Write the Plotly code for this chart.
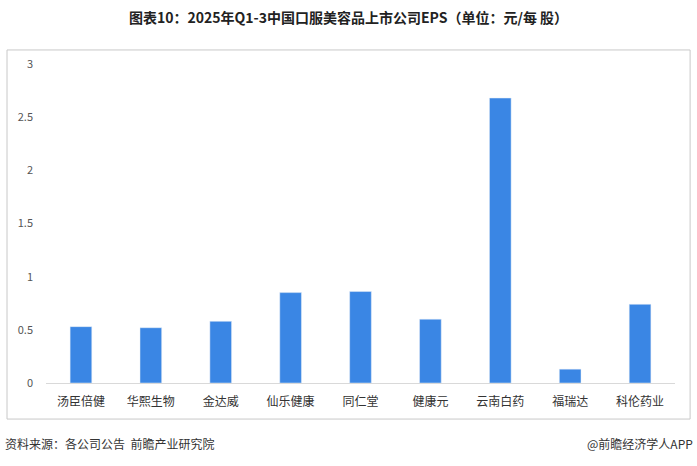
import plotly.graph_objects as go

categories = ["汤臣倍健", "华熙生物", "金达威", "仙乐健康", "同仁堂", "健康元", "云南白药", "福瑞达", "科伦药业"]
eps = [0.53, 0.52, 0.58, 0.85, 0.86, 0.60, 2.68, 0.13, 0.74]

F = "Noto Sans CJK SC"
fig = go.Figure(go.Bar(x=categories, y=eps, marker_color="#3a86e4", width=0.31))
fig.update_layout(
    width=697, height=466, plot_bgcolor="white", paper_bgcolor="white",
    margin=dict(l=46, r=22, t=64, b=83), showlegend=False,
    font=dict(family=F, size=12, color="#333"),
    title=dict(text="<b>图表10：2025年Q1-3中国口服美容品上市公司EPS（单位：元/每 股）</b>",
               x=0.5, xanchor="center", y=0.962, yanchor="middle", font=dict(size=14, color="#222")),
    xaxis=dict(showline=True, linecolor="#d9d9d9", linewidth=1, ticks="",
               tickfont=dict(size=12, color="#333"), ticklabelstandoff=8),
    yaxis=dict(range=[0, 3], dtick=0.5, showgrid=False, zeroline=False, showline=False,
               tickfont=dict(size=11, color="#555"), ticklabelstandoff=12),
    shapes=[dict(type="rect", xref="paper", yref="paper", x0=-0.062, x1=1.024, y0=-0.113, y1=1.044,
                 line=dict(color="#c8c8c8", width=1), layer="above")],
    annotations=[
        dict(text="资料来源：各公司公告  前瞻产业研究院", xref="paper", yref="paper", x=-0.068, y=-0.19,
             xanchor="left", yanchor="middle", showarrow=False, font=dict(size=12, color="#333")),
        dict(text="@前瞻经济学人APP", xref="paper", yref="paper", x=1.032, y=-0.19,
             xanchor="right", yanchor="middle", showarrow=False, font=dict(size=12, color="#333")),
    ],
)
fig.write_html("out.html", config={"displayModeBar": False})
with open("out.html", encoding="utf-8") as f:
    html = f.read()
html = html.replace("<head>", "<head><style>html,body{margin:0;padding:0;overflow:hidden}</style>", 1)
with open("out.html", "w", encoding="utf-8") as f:
    f.write(html)
